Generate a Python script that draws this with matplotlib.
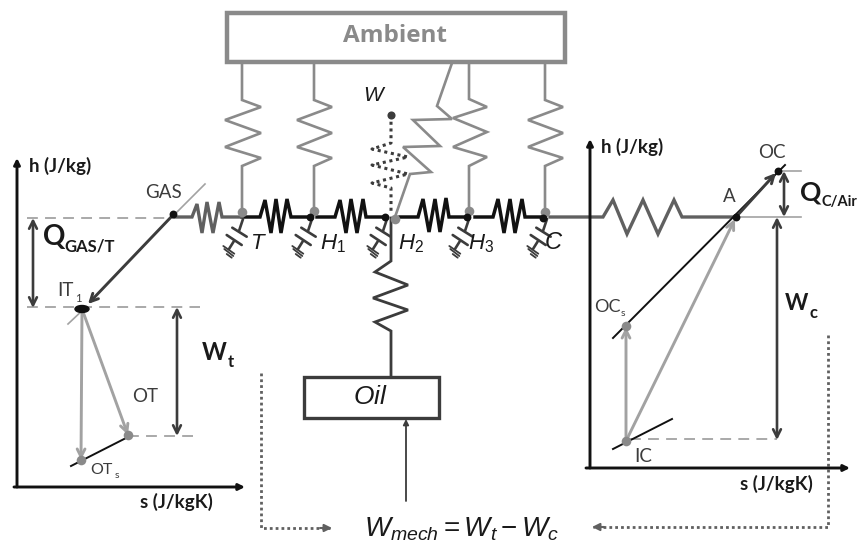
import matplotlib
matplotlib.use("Agg")
import matplotlib.pyplot as plt
from matplotlib.patches import Rectangle, Ellipse

plt.rcParams["mathtext.fontset"] = "custom"
plt.rcParams["mathtext.rm"] = "Liberation Sans"
plt.rcParams["mathtext.it"] = "Liberation Sans:italic"

DARK = "#3c3c3c"
MID = "#606060"
GRAY = "#8a8a8a"
LIGHT = "#a2a2a2"
BLACK = "#111111"

# resistors to ambient
r_ambient_t = [(242, 62), (242, 100), (261, 107), (225, 120), (261, 133), (225, 147), (261, 158), (242, 166), (242, 212)]
r_ambient_h1 = [(314, 62), (314, 100), (332, 107), (297, 120), (332, 133), (297, 147), (332, 158), (314, 166), (314, 212)]
r_ambient_h2 = [(452, 63), (437, 106), (452, 119), (413, 120), (440, 146), (403, 147), (431, 172), (410, 174), (395, 217)]
r_ambient_h3 = [(469, 62), (469, 99), (487, 107), (453, 118), (487, 132), (453, 147), (487, 157), (469, 166), (469, 212)]
r_ambient_c = [(545, 62), (545, 100), (563, 107), (528, 120), (563, 133), (528, 147), (563, 158), (545, 166), (545, 212)]
ambient_resistors = [r_ambient_t, r_ambient_h1, r_ambient_h2, r_ambient_h3, r_ambient_c]

# dotted work input
r_work = [(391, 115), (391, 143), (372, 149), (408, 157), (372, 165), (408, 174), (372, 183), (391, 188), (391, 213)]

# main chain
chain_1 = [(242, 217), (260, 217), (265, 200), (271, 233), (276, 199), (281, 233), (287, 199), (291, 217), (310, 217)]
chain_2 = [(317, 217), (335, 217), (340, 200), (346, 233), (351, 199), (357, 233), (363, 199), (366, 217), (385, 217)]
chain_3 = [(400, 217), (418, 217), (423, 199), (429, 232), (435, 199), (440, 232), (446, 198), (449, 217), (469, 217)]
chain_4 = [(475, 217), (493, 217), (498, 199), (504, 233), (510, 199), (515, 233), (522, 199), (525, 217), (545, 217)]
r_gas = [(175, 217), (192, 217), (197, 204), (202, 233), (207, 202), (213, 233), (219, 202), (222, 217), (242, 217)]
r_air = [(550, 217), (603, 217), (613, 200), (627, 234), (643, 200), (658, 234), (674, 200), (682, 217), (736, 217)]
r_oil = [(391, 218), (391, 261), (375, 272), (408, 285), (373, 298), (408, 310), (375, 322), (391, 331), (391, 377)]

cap_nodes = [241, 310, 385, 467, 545]
cap_wire_1 = [(2, 2), (-2, 14)]
cap_plate_1 = [(-8.7, 10.7), (5.7, 19.7)]
cap_plate_2 = [(-14.3, 18), (0.7, 28)]
cap_wire_2 = [(-7, 24), (-12, 32)]
cap_ground = [[(-17.7, 29), (-6.7, 36.7)], [(-16.7, 32), (-7.7, 39)], [(-14.3, 37), (-9.3, 40.7)]]
chain_y = 217

gray_nodes = [(242, 212), (314, 211), (395, 219), (469, 211), (545, 212), (128, 435), (81, 460), (626, 326), (626, 441)]
black_nodes = [(310, 217), (385, 217), (467, 217), (543, 218), (173, 214), (778, 171), (736, 217)]

dashed_lines = [
    [(27, 218), (173, 218)],
    [(27, 307), (200, 307)],
    [(128, 436), (195, 436)],
    [(630, 439), (777, 439)],
]
thin_gray = [[(177, 212), (205, 184)], [(68, 324), (85, 308)], [(736, 217), (801, 217)], [(778, 171), (801, 171)]]
thin_black = [[(71, 466), (128, 437)], [(613, 338), (785, 165)], [(613, 449), (672, 419)]]

dark_double = [
    [(33, 218), (33, 308)],
    [(177, 307), (177, 436)],
    [(784, 171), (784, 217)],
    [(777, 217), (777, 440)],
]
gray_arrows = [
    [(82, 309), (81, 460)],
    [(82, 309), (128, 435)],
    [(626, 441), (626, 327)],
    [(626, 441), (735, 219)],
]
dark_arrows = [[(173, 215), (88, 304)], [(736, 217), (776, 173)]]
axis_arrows = [
    [(17, 487), (17, 158)],
    [(14, 487), (245, 487)],
    [(590, 468), (590, 139)],
    [(586, 468), (850, 468)],
]
oil_arrow = [(406, 501), (406, 419)]
dotted_left = [(261, 373), (261, 528), (330, 528)]
dotted_right = [(828, 335), (828, 527), (593, 527)]

calibri_labels = [
    ("GAS", 163, 193, 13.5), ("OT", 145, 397, 13.5), ("OT", 101, 470, 11.5), ("s", 117, 476, 7.5),
    ("IT", 65, 291, 13.5), ("1", 78, 298, 8), ("OC", 772, 153, 13.5), ("A", 729, 196, 13.5),
    ("OC", 607, 307, 13), ("s", 623, 313, 7.5), ("IC", 643, 457, 13.5),
]
bold_labels = [
    ("h (J/kg)", 29, 166, 13.5, "left"), ("s (J/kgK)", 140, 502, 13.5, "left"),
    ("h (J/kg)", 601, 147, 13.5, "left"), ("s (J/kgK)", 740, 484, 13.5, "left"),
    ("Q", 43, 237, 20, "left"), ("GAS/T", 64, 246, 12, "left"),
    ("W", 202, 353, 17, "left"), ("t", 228, 362, 12, "left"),
    ("Q", 800, 193, 19, "left"), ("C/Air", 821, 202, 10.5, "left"),
    ("W", 785, 304, 16, "left"), ("c", 810, 313, 12, "left"),
]
italic_labels = [
    (r"$\mathit{T}$", 258, 243, 16), (r"$\mathit{H}_{1}$", 333, 244, 16), (r"$\mathit{H}_{2}$", 411, 244, 16),
    (r"$\mathit{H}_{3}$", 481, 244, 16), (r"$\mathit{C}$", 554, 242, 17), (r"$\mathit{W}$", 375, 95, 15),
    (r"$\mathit{Oil}$", 370, 397, 19),
]
formula = r"$\mathit{W}_{\mathit{mech}}=\mathit{W}_{\mathit{t}}-\mathit{W}_{\mathit{c}}$"


def xy(points):
    return [p[0] for p in points], [p[1] for p in points]


def arrow(ax, start, end, color, lw, style="->", scale=14):
    ax.annotate("", xy=end, xytext=start, zorder=4,
                arrowprops=dict(arrowstyle=style, color=color, lw=lw, shrinkA=0, shrinkB=0, mutation_scale=scale))


def capacitor(ax, x0):
    parts = [cap_wire_1, cap_plate_1, cap_plate_2, cap_wire_2] + cap_ground
    for i, part in enumerate(parts):
        xs = [x0 + p[0] for p in part]
        ys = [chain_y + p[1] for p in part]
        ax.plot(xs, ys, color=DARK, lw=1.9 if i < 4 else 1.3, solid_capstyle="round")


fig = plt.figure(figsize=(8.58, 5.47), dpi=100)
ax = fig.add_axes([0, 0, 1, 1])
ax.set_xlim(0, 858)
ax.set_ylim(547, 0)
ax.axis("off")

ax.add_patch(Rectangle((227, 13), 338, 49, fill=False, ec=GRAY, lw=3.2))
ax.text(395, 36, "Ambient", ha="center", va="center", family="Open Sans", weight="bold", size=17.5, color=GRAY)

for line in ambient_resistors:
    ax.plot(*xy(line), color=GRAY, lw=1.9, solid_joinstyle="miter")
ax.plot(*xy(r_work), color=DARK, lw=2.2, ls=(0, (1, 1.2)))

for line in [chain_1, chain_2, chain_3, chain_4]:
    ax.plot(*xy(line), color=BLACK, lw=2.5, solid_joinstyle="miter")
ax.plot(*xy(r_gas), color=MID, lw=2.4, solid_joinstyle="miter")
ax.plot(*xy(r_air), color=MID, lw=2.4, solid_joinstyle="miter")
ax.plot(*xy(r_oil), color=DARK, lw=2.0, solid_joinstyle="miter")

for x0 in cap_nodes:
    capacitor(ax, x0)

for line in dashed_lines:
    ax.plot(*xy(line), color=LIGHT, lw=1.3, ls=(0, (6, 4)))
for line in thin_gray:
    ax.plot(*xy(line), color=LIGHT, lw=1.2)
for line in thin_black:
    ax.plot(*xy(line), color=BLACK, lw=1.4)

for start, end in dark_double:
    arrow(ax, start, end, DARK, 1.9, "<->", 14)
for start, end in gray_arrows:
    arrow(ax, start, end, LIGHT, 2.1)
for start, end in dark_arrows:
    arrow(ax, start, end, DARK, 2.1)
for start, end in axis_arrows:
    arrow(ax, start, end, BLACK, 2.1, "-|>", 9)
arrow(ax, oil_arrow[0], oil_arrow[1], DARK, 1.3, "-|>", 8)

ax.plot(*xy(dotted_left), color=MID, lw=2.0, ls=(0, (1, 1.1)))
ax.plot(*xy(dotted_right), color=MID, lw=2.0, ls=(0, (1, 1.1)))
arrow(ax, (320, 528), (332, 528), MID, 1.5, "-|>", 11)
arrow(ax, (604, 527), (592, 527), MID, 1.5, "-|>", 11)

ax.scatter(*xy(gray_nodes), s=48, color=GRAY, zorder=5, linewidths=0)
ax.scatter(*xy(black_nodes), s=32, color=BLACK, zorder=5, linewidths=0)
ax.add_patch(Ellipse((82, 309), 14, 7, color=BLACK, zorder=5))
ax.scatter([391], [115], s=34, color=DARK, zorder=5, linewidths=0)

ax.add_patch(Rectangle((304, 377), 135, 41, fill=False, ec=DARK, lw=2.4))

for text, x, y, size in calibri_labels:
    ax.text(x, y, text, ha="center", va="center", family="Lato", size=size, color=DARK)
for text, x, y, size, align in bold_labels:
    ax.text(x, y, text, ha=align, va="center", family="Lato", weight="bold", size=size, color="#1a1a1a")
for text, x, y, size in italic_labels:
    ax.text(x, y, text, ha="center", va="center", size=size, color="#1a1a1a")
ax.text(462, 529, formula, ha="center", va="center", size=20, color="#1a1a1a")

fig.savefig("out.png", dpi=100)
